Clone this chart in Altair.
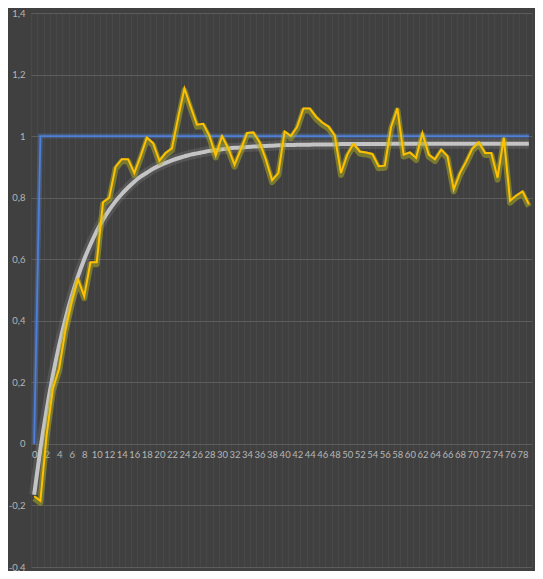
import altair as alt
import pandas as pd

idx = list(range(80))

step_input = [0.0] + [1.0] * 79

measured = [-0.17, -0.185, 0.03, 0.18, 0.245, 0.37, 0.46, 0.535, 0.48, 0.59,
            0.59, 0.785, 0.80, 0.90, 0.925, 0.925, 0.88, 0.935, 0.995, 0.977,
            0.92, 0.945, 0.96, 1.06, 1.155, 1.095, 1.037, 1.04, 1.0, 0.937,
            1.0, 0.96, 0.907, 0.956, 1.01, 1.012, 0.98, 0.924, 0.857, 0.88,
            1.015, 1.0, 1.03, 1.09, 1.09, 1.063, 1.044, 1.031, 1.002, 0.88,
            0.94, 0.975, 0.95, 0.947, 0.942, 0.902, 0.904, 1.03, 1.09, 0.94,
            0.947, 0.929, 1.01, 0.94, 0.925, 0.956, 0.935, 0.827, 0.88, 0.918,
            0.96, 0.98, 0.945, 0.945, 0.865, 0.994, 0.79, 0.807, 0.82, 0.778]

fitted = [-0.165, -0.017, 0.111, 0.224, 0.321, 0.406, 0.480, 0.544, 0.600, 0.648,
          0.691, 0.728, 0.760, 0.788, 0.812, 0.833, 0.852, 0.868, 0.881, 0.894,
          0.904, 0.913, 0.921, 0.928, 0.934, 0.940, 0.944, 0.948, 0.952, 0.955,
          0.957, 0.960, 0.962, 0.963, 0.965, 0.966, 0.967, 0.968, 0.969, 0.970,
          0.971, 0.971, 0.972, 0.972, 0.972, 0.973, 0.973, 0.973, 0.973, 0.974,
          0.974, 0.974, 0.974, 0.974, 0.974, 0.974, 0.974, 0.975, 0.975, 0.975,
          0.975, 0.975, 0.975, 0.975, 0.975, 0.975, 0.975, 0.975, 0.975, 0.975,
          0.975, 0.975, 0.975, 0.975, 0.975, 0.975, 0.975, 0.975, 0.975, 0.975]

y_ticks = [-0.4, -0.2, 0, 0.2, 0.4, 0.6, 0.8, 1.0, 1.2, 1.4]

df = pd.DataFrame({"i": idx, "blue": step_input, "yellow": measured, "gray": fitted})

FONT = "Lato"
LABEL = "#b5b5b5"

x_enc = alt.X(
    "i:O",
    scale=alt.Scale(type="band", paddingInner=0, paddingOuter=0),
    axis=alt.Axis(
        title=None, tickBand="extent", grid=True, gridColor="#484848", gridWidth=1,
        domain=False, ticks=False, labelAngle=0, labelOverlap=False,
        labelExpr="datum.value % 2 == 0 ? datum.label : ''",
        labelColor=LABEL, labelFontSize=9.5, labelFont=FONT, labelPadding=5,
        offset=-123,
    ),
)

y_scale = alt.Scale(domain=[-0.4, 1.4], nice=False, zero=False)
y_axis = alt.Axis(
    title=None, values=y_ticks, grid=True, gridColor="#5c5c5c", gridWidth=1,
    domain=False, ticks=False, labelColor=LABEL, labelFontSize=9.5, labelFont=FONT,
    labelPadding=6,
    labelExpr="replace(replace(format(datum.value, '.1~f'), '.', ','), '\u2212', '-')",
)

base = alt.Chart(df)

blue_glow = base.mark_line(color="#5b8fe8", strokeWidth=5, opacity=0.3).encode(
    x=x_enc, y=alt.Y("blue:Q", scale=y_scale, axis=y_axis))
blue = base.mark_line(color="#4f7fd6", strokeWidth=1.8).encode(
    x=x_enc, y=alt.Y("blue:Q", scale=y_scale, axis=y_axis))

gray_glow = base.mark_line(color="#ffffff", strokeWidth=10, opacity=0.1, interpolate="monotone").encode(
    x=x_enc, y=alt.Y("gray:Q", scale=y_scale, axis=y_axis))
gray = base.mark_line(color="#c4c4c4", strokeWidth=4, interpolate="monotone").encode(
    x=x_enc, y=alt.Y("gray:Q", scale=y_scale, axis=y_axis))

yellow_glow = base.mark_line(color="#a8a820", strokeWidth=6, opacity=0.55, yOffset=2,
                             strokeJoin="round").encode(
    x=x_enc, y=alt.Y("yellow:Q", scale=y_scale, axis=y_axis))
yellow = base.mark_line(color="#ffc000", strokeWidth=2, strokeJoin="miter").encode(
    x=x_enc, y=alt.Y("yellow:Q", scale=y_scale, axis=y_axis))

chart = alt.layer(blue_glow, blue, gray_glow, gray, yellow_glow, yellow).properties(
    width=501, height=554,
    autosize=alt.AutoSizeParams(type="none"),
    padding={"left": 23, "top": 5, "right": 3, "bottom": 4},
    background="#404040",
).configure_view(stroke=None)

chart.save("out.html", embed_options={"renderer": "svg", "actions": False})
